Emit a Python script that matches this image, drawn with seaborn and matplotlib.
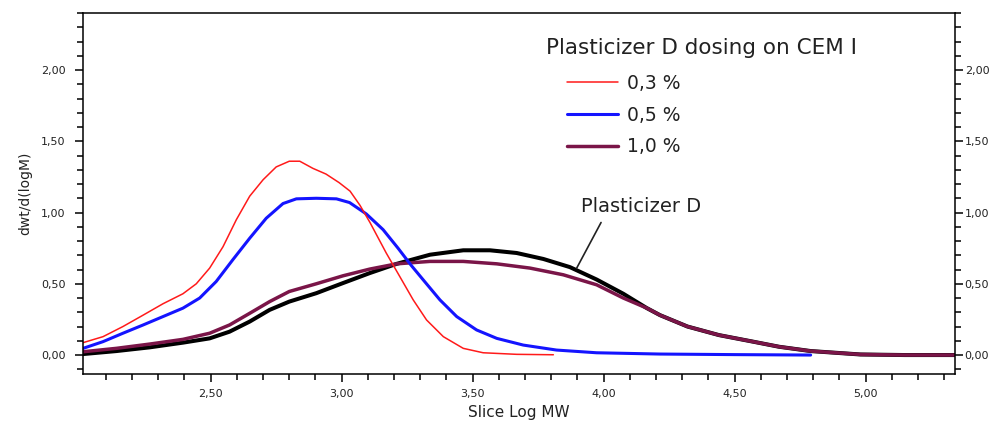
import numpy as np
import pandas as pd
import matplotlib
matplotlib.use("Agg")
import matplotlib.pyplot as plt
from matplotlib.ticker import MultipleLocator, FuncFormatter
import seaborn as sns

# ---- data ----
x_03 = [2.013, 2.089, 2.165, 2.242, 2.318, 2.394, 2.445, 2.496, 2.547, 2.598, 2.649, 2.70, 2.75,
        2.80, 2.84, 2.89, 2.94, 2.99, 3.032, 3.07, 3.108, 3.17, 3.222, 3.273, 3.324, 3.388, 3.464,
        3.54, 3.668, 3.808]
y_03 = [0.087, 0.129, 0.20, 0.28, 0.36, 0.43, 0.50, 0.61, 0.76, 0.95, 1.115, 1.23, 1.32,
        1.36, 1.36, 1.31, 1.27, 1.21, 1.15, 1.05, 0.93, 0.716, 0.55, 0.387, 0.246, 0.129, 0.047,
        0.016, 0.005, 0.002]

x_05 = [2.013, 2.089, 2.165, 2.242, 2.318, 2.394, 2.458, 2.521, 2.585, 2.649, 2.712, 2.776, 2.827,
        2.903, 2.98, 3.03, 3.094, 3.158, 3.215, 3.265, 3.311, 3.375, 3.439, 3.515, 3.592, 3.693,
        3.82, 3.973, 4.215, 4.50, 4.79]
y_05 = [0.047, 0.094, 0.153, 0.211, 0.27, 0.329, 0.40, 0.516, 0.67, 0.82, 0.96, 1.063, 1.096,
        1.10, 1.096, 1.07, 0.99, 0.88, 0.75, 0.63, 0.528, 0.387, 0.27, 0.176, 0.117, 0.07,
        0.035, 0.016, 0.007, 0.003, 0.0]

x_10 = [2.013, 2.14, 2.267, 2.394, 2.496, 2.572, 2.649, 2.725, 2.80, 2.903, 3.005, 3.107, 3.21,
        3.337, 3.464, 3.592, 3.719, 3.846, 3.973, 4.075, 4.164, 4.215, 4.32, 4.44, 4.57, 4.67,
        4.79, 4.98, 5.15, 5.34]
y_10 = [0.023, 0.047, 0.077, 0.11, 0.153, 0.211, 0.293, 0.375, 0.446, 0.50, 0.556, 0.603, 0.64,
        0.657, 0.657, 0.64, 0.61, 0.563, 0.493, 0.40, 0.33, 0.28, 0.20, 0.14, 0.094, 0.058,
        0.028, 0.004, 0.0, 0.0]

x_pd = [2.013, 2.14, 2.267, 2.394, 2.496, 2.572, 2.649, 2.725, 2.80, 2.903, 3.005, 3.107, 3.21,
        3.337, 3.464, 3.566, 3.668, 3.77, 3.871, 3.973, 4.075, 4.164, 4.215, 4.32, 4.44, 4.57,
        4.67, 4.79, 4.98, 5.15, 5.34]
y_pd = [0.007, 0.028, 0.054, 0.087, 0.117, 0.164, 0.235, 0.317, 0.375, 0.434, 0.505, 0.575, 0.64,
        0.704, 0.735, 0.735, 0.716, 0.674, 0.617, 0.53, 0.43, 0.33, 0.28, 0.20, 0.14, 0.094,
        0.058, 0.028, 0.004, 0.0, 0.0]

labels = ["0,3 %", "0,5 %", "1,0 %"]
legend_title = "Plasticizer D dosing on CEM I"
ref_label = "Plasticizer D"
xlabel = "Slice Log MW"
ylabel = "dwt/d(logM)"

# ---- figure ----
sns.set_theme(style="ticks")
plt.rcParams["font.family"] = ["DejaVu Sans"]

fig = plt.figure(figsize=(9.92, 4.26), dpi=100)
W, H = 992, 426
ax = fig.add_axes([83 / W, 1 - 374 / H, (955 - 83) / W, (374 - 13) / H])

c_red, c_blue, c_mar = "#ff1a1a", "#1414ff", "#7a1548"

sns.lineplot(x=x_pd, y=y_pd, color="black", lw=2.9, ax=ax, label="_nolegend_")
sns.lineplot(x=x_10, y=y_10, color=c_mar, lw=2.5, ax=ax, label=labels[2])
sns.lineplot(x=x_05, y=y_05, color=c_blue, lw=2.2, ax=ax, label=labels[1])
sns.lineplot(x=x_03, y=y_03, color=c_red, lw=1.1, ax=ax, label=labels[0])

ax.set_xlim(2.0126, 5.341)
ax.set_ylim(-0.133, 2.40)

fmt = FuncFormatter(lambda v, p: f"{v:.2f}".replace(".", ","))
ax.xaxis.set_major_locator(MultipleLocator(0.5))
ax.xaxis.set_minor_locator(MultipleLocator(0.1))
ax.yaxis.set_major_locator(MultipleLocator(0.5))
ax.yaxis.set_minor_locator(MultipleLocator(0.1))
ax.xaxis.set_major_formatter(fmt)
ax.yaxis.set_major_formatter(fmt)

for s in ax.spines.values():
    s.set_color("black")
    s.set_linewidth(1.1)

ax.tick_params(which="major", direction="out", length=6, width=1.1, color="black",
               labelsize=8, labelcolor="#222222")
ax.tick_params(which="minor", direction="out", length=4, width=1.1, color="black")
ax.tick_params(axis="x", which="major", pad=5)
ax.tick_params(axis="y", which="major", pad=6.5)

ax2 = ax.twinx()
ax2.set_ylim(ax.get_ylim())
ax2.yaxis.set_major_locator(MultipleLocator(0.5))
ax2.yaxis.set_minor_locator(MultipleLocator(0.1))
ax2.yaxis.set_major_formatter(fmt)
ax2.tick_params(which="major", direction="out", length=6, width=1.1, color="black",
                labelsize=8, labelcolor="#222222", pad=1)
ax2.tick_params(which="minor", direction="out", length=4, width=1.1, color="black")
for s in ax2.spines.values():
    s.set_visible(False)

ax.set_xlabel(xlabel, fontsize=11, color="#222222", labelpad=4)
ax.set_ylabel(ylabel, fontsize=10, color="#222222", labelpad=6)

# reference annotation
ax.annotate("", xy=(3.897, 0.61), xytext=(3.99, 0.93),
            arrowprops=dict(arrowstyle="-", color="#222222", lw=1.2, shrinkA=0, shrinkB=0))
ax.text(4.142, 1.04, ref_label, ha="center", va="center", fontsize=14, color="#222222")

# legend
handles, labs = ax.get_legend_handles_labels()
order = [labs.index(l) for l in labels]
leg = ax.legend([handles[i] for i in order], [labs[i] for i in order],
                loc="upper left", bbox_to_anchor=(566.7 / W, 1 - 74 / H),
                bbox_transform=fig.transFigure, frameon=False, fontsize=13.5,
                handlelength=2.75, handletextpad=0.48, labelspacing=0.68,
                borderpad=0, borderaxespad=0)
for t in leg.get_texts():
    t.set_color("#222222")
fig.text(546 / W, 1 - 48 / H, legend_title, ha="left", va="center", fontsize=15.5, color="#222222")

fig.savefig("out.png", dpi=100, facecolor="white")
